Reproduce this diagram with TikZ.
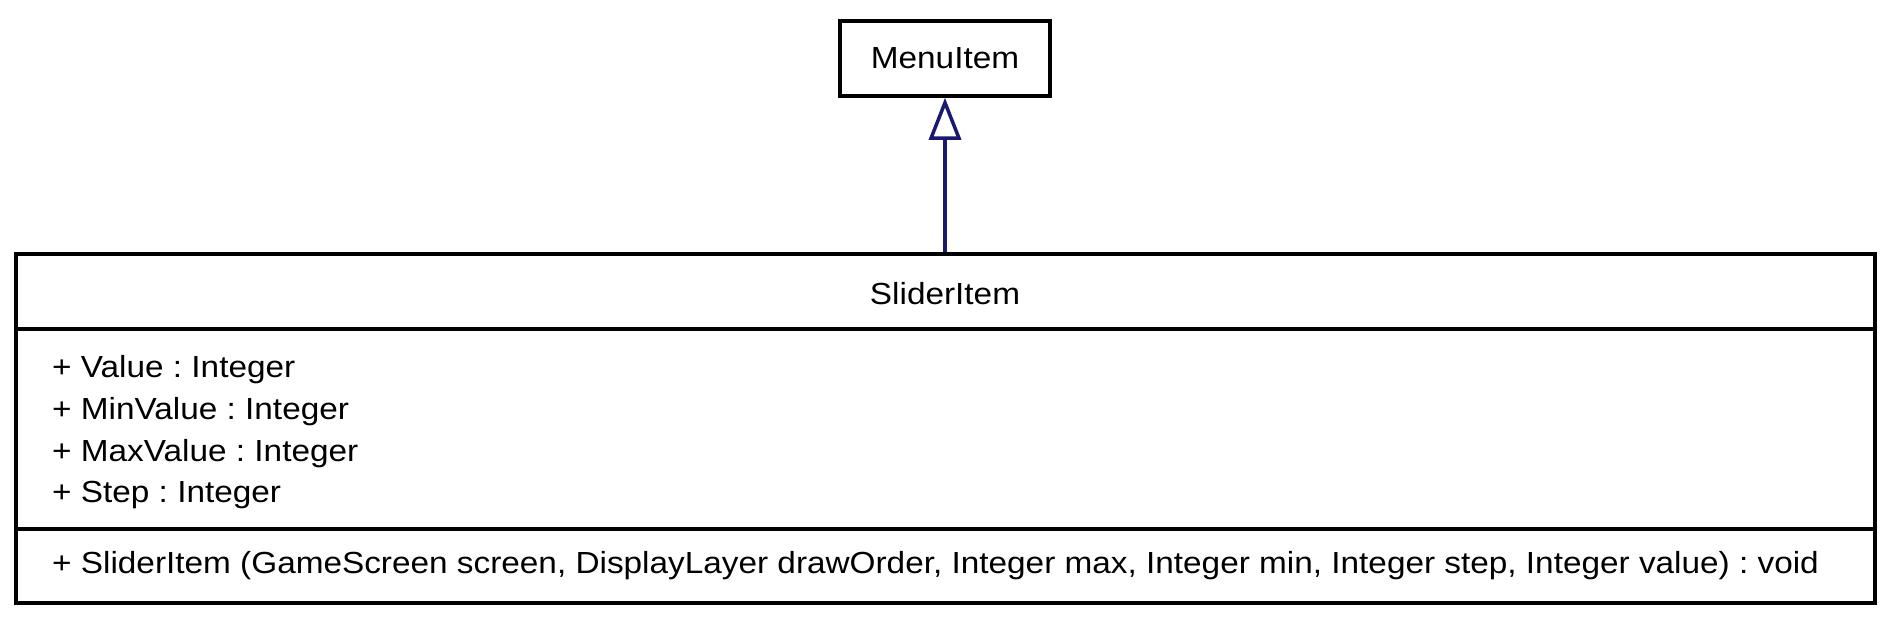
\documentclass[tikz,border=0pt]{standalone}
\usepackage{fontspec}
\setmainfont{Liberation Sans}[FakeStretch=1.093]
\usetikzlibrary{arrows.meta}
\definecolor{edgeblue}{HTML}{191970}
\frenchspacing
\begin{document}
\begin{tikzpicture}[x=1pt,y=-1pt,
  box/.style={draw=black, line width=3.5pt, inner sep=0pt},
  lbl/.style={font=\frenchspacing\fontsize{30.5}{41.7}\selectfont, inner sep=0pt},
  inherit/.style={draw=edgeblue, line width=3.5pt, -{Triangle[open, width=32pt, length=42pt, line width=3.5pt]}}]
\useasboundingbox (0,0) rectangle (1892,625);
% MenuItem
\node[box, minimum width=210pt, minimum height=75pt] (menu) at (945,58.5) {};
\node[lbl, anchor=base] (menuT) at (945,68) {MenuItem};
% SliderItem
\node[box, minimum width=1859pt, minimum height=349pt] (slider) at (945.5,428.5) {};
\coordinate (sep1) at (16,329);
\coordinate (sep2) at (16,529);
\draw[line width=3.5pt] (sep1) -- (sep1 -| slider.east);
\draw[line width=3.5pt] (sep2) -- (sep2 -| slider.east);
\node[lbl, anchor=base] (sliderT) at (945,304) {SliderItem};
\node[lbl, anchor=base west] (a1) at (52,377) {+ Value : Integer};
\node[lbl, anchor=base west] (a2) at (52,419) {+ MinValue : Integer};
\node[lbl, anchor=base west] (a3) at (52,461) {+ MaxValue : Integer};
\node[lbl, anchor=base west] (a4) at (52,502) {+ Step : Integer};
\node[lbl, anchor=base west] (m1) at (52,573) {+ SliderItem (GameScreen screen, DisplayLayer drawOrder, Integer max, Integer min, Integer step, Integer value) : void};
% inheritance
\draw[inherit] (slider.north -| menu.south) -- (menu.south);
\end{tikzpicture}
\end{document}
